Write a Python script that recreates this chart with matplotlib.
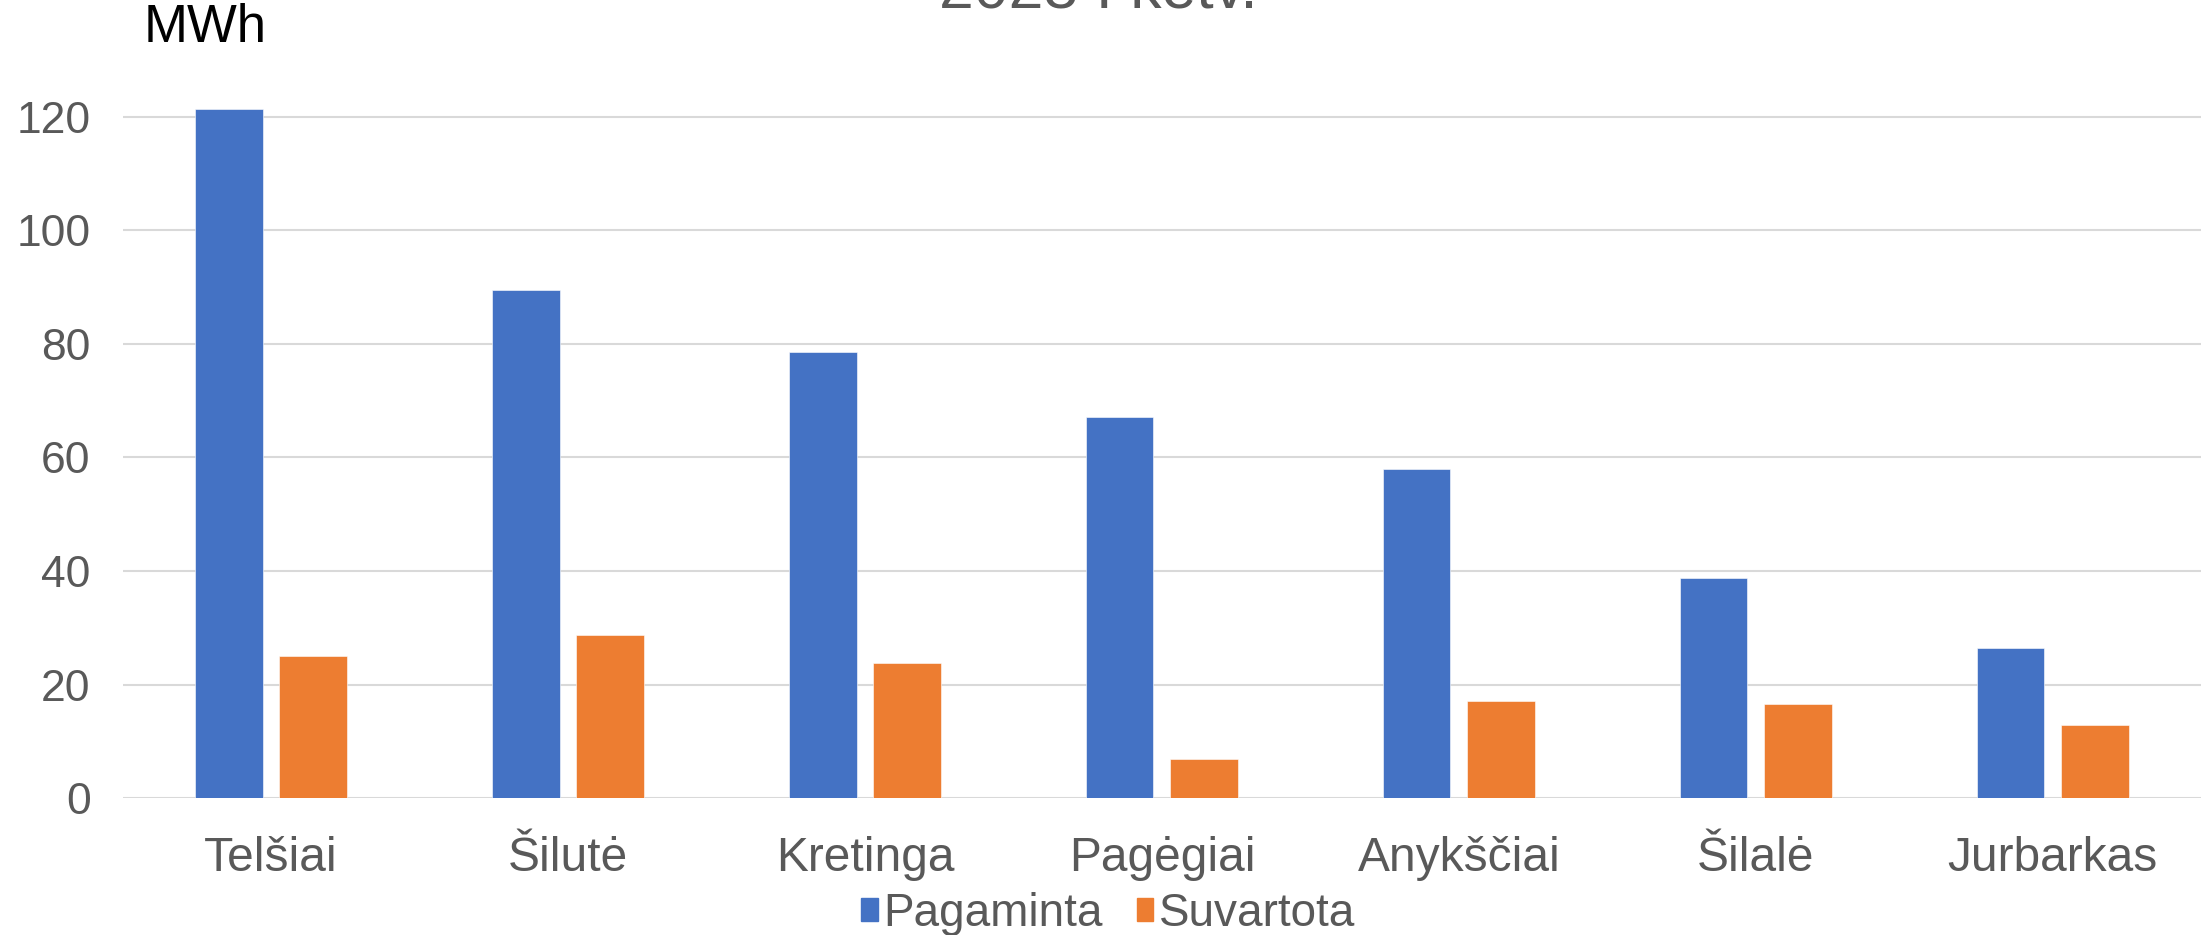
import matplotlib.pyplot as plt
from matplotlib.patches import Patch
import numpy as np

plt.rcParams['font.family'] = ['Liberation Sans', 'DejaVu Sans']

# Duomenys
miestai = ['Telšiai', 'Šilutė', 'Kretinga', 'Pagėgiai', 'Anykščiai', 'Šilalė', 'Jurbarkas']
pagaminta = [121.4, 89.5, 78.6, 67.2, 58.0, 38.7, 26.5]
suvartota = [25.0, 28.7, 23.8, 6.9, 17.1, 16.6, 12.9]
y_ticks = [0, 20, 40, 60, 80, 100, 120]

melyna = '#4472C4'
oranzine = '#ED7D31'
pilka = '#595959'

fig = plt.figure(figsize=(22.08, 9.35), dpi=100)
ax = fig.add_axes([0.0555, 0.1465, 0.9415, 0.8535])

x = np.arange(len(miestai))
w = 0.227
ax.bar(x - 0.142, pagaminta, w, color=melyna, edgecolor='white', linewidth=0.4, zorder=3)
ax.bar(x + 0.142, suvartota, w, color=oranzine, edgecolor='white', linewidth=0.4, zorder=3)

ax.set_xlim(-0.5, len(miestai) - 0.5)
ax.set_ylim(0, 140.6)
ax.set_yticks(y_ticks)
ax.set_xticks(x)
ax.set_xticklabels(miestai)
ax.grid(axis='y', color='#D9D9D9', linewidth=1.5, zorder=0)
ax.set_axisbelow(True)
for s in ax.spines.values():
    s.set_visible(False)
ax.tick_params(axis='y', length=0, pad=23, labelsize=32, labelcolor=pilka)
ax.tick_params(axis='x', length=0, pad=27, labelsize=34.5, labelcolor=pilka)

# Pavadinimas (apkarpytas viršuje) ir vienetai
fig.text(1098 / 2208, 1 - 8 / 935, '2023 I ketv.', ha='center', va='baseline',
         fontsize=45, color=pilka)
fig.text(144 / 2208, 1 - 28 / 935, 'MWh', ha='left', va='center', fontsize=38, color='black')

rankenos = [Patch(color=melyna), Patch(color=oranzine)]
fig.legend(rankenos, ['Pagaminta', 'Suvartota'], loc='center',
           bbox_to_anchor=(1108 / 2208, 1 - 914 / 935), ncol=2, frameon=False,
           fontsize=33, labelcolor=pilka, handlelength=0.37, handleheight=0.37,
           handletextpad=0.12, columnspacing=0.74, borderpad=0)

fig.savefig('out.png', dpi=100)
